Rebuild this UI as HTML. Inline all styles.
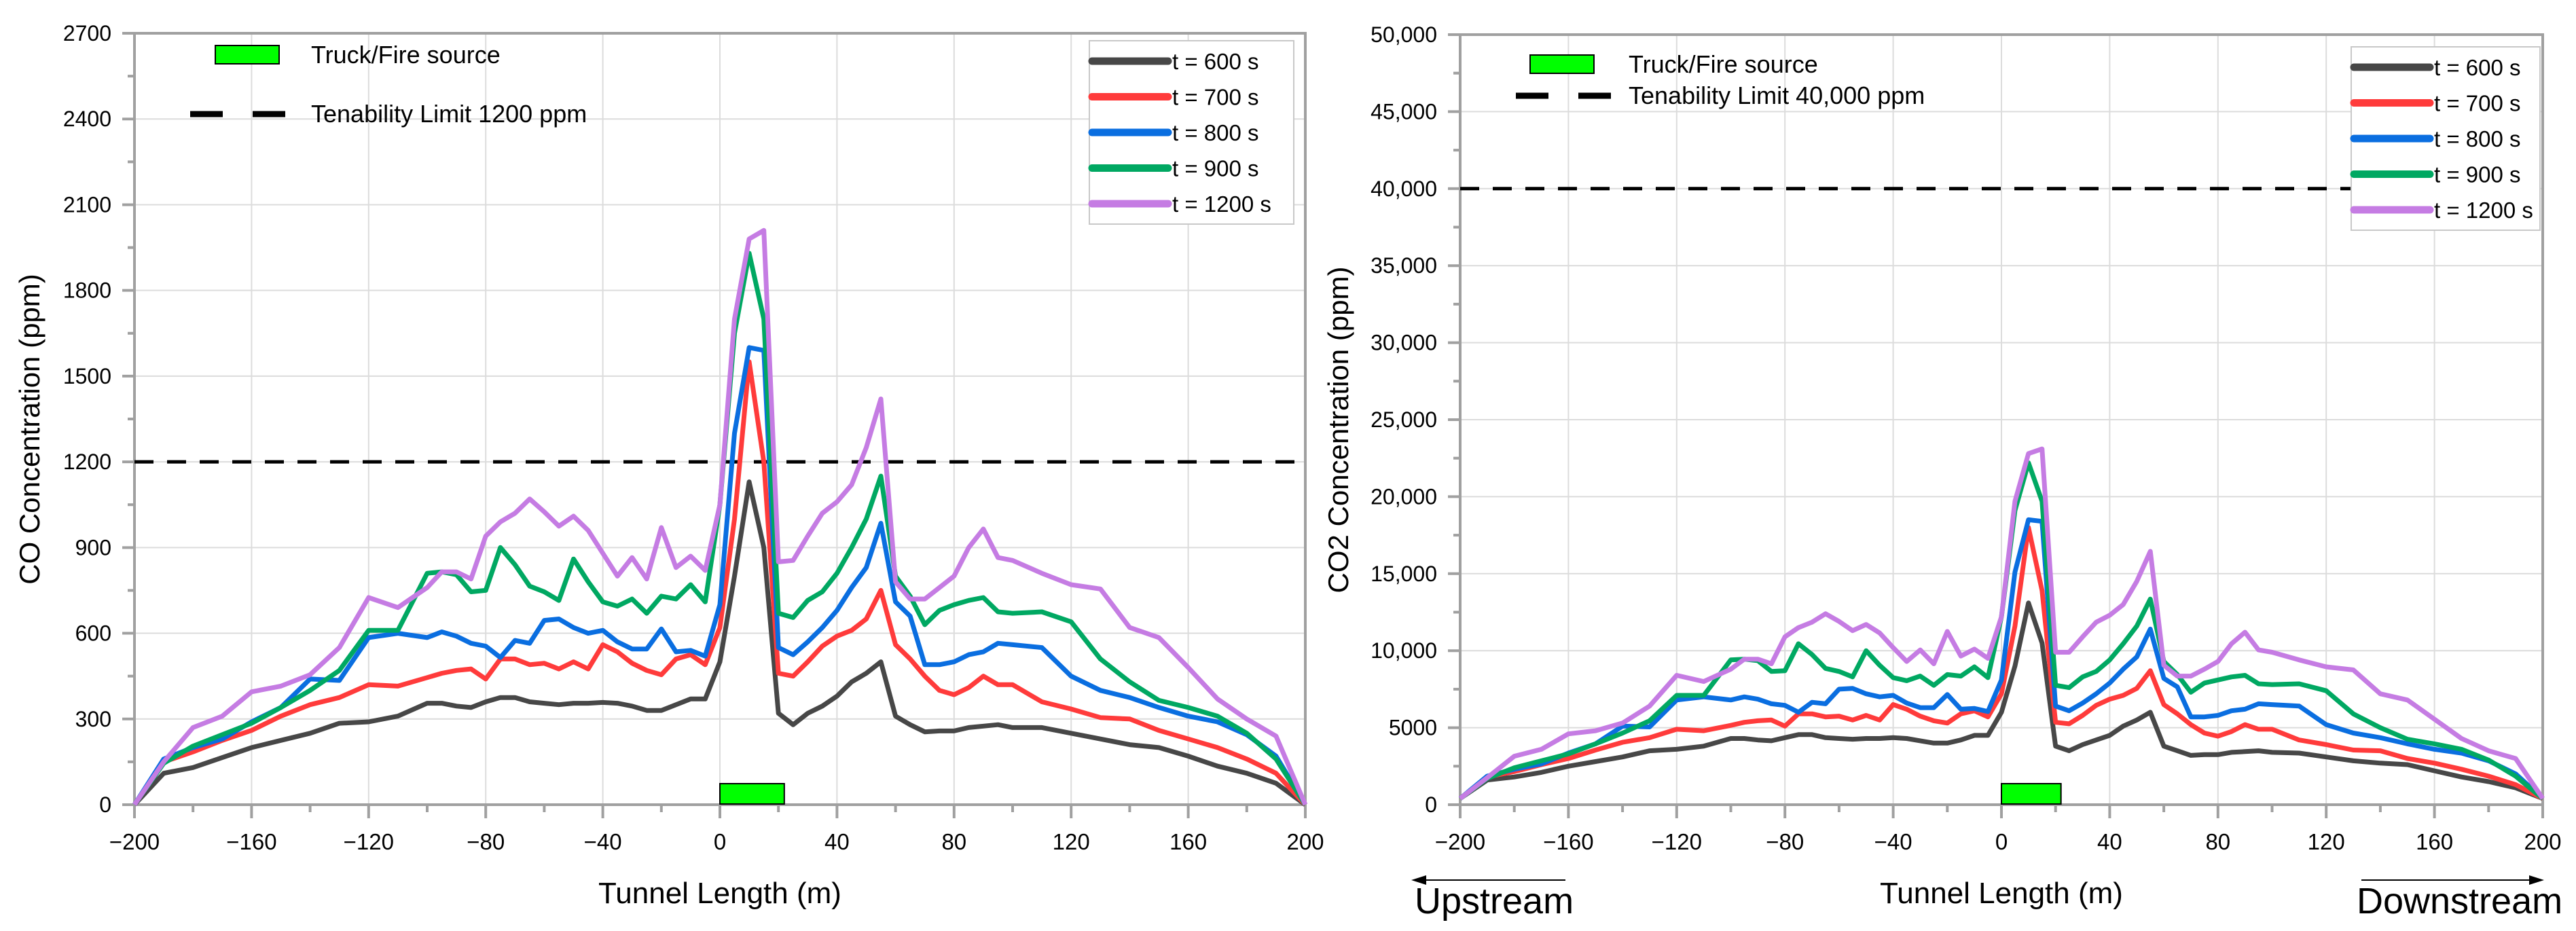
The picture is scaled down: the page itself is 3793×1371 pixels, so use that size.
<!DOCTYPE html>
<html><head><meta charset="utf-8"><style>
html,body{margin:0;padding:0;background:#fff;}
svg{display:block;}
text{font-family:"Liberation Sans Narrow","Liberation Sans",sans-serif;fill:#000;}
.t{font-family:"Liberation Sans",sans-serif;}
</style></head><body>
<svg id="fig" width="3793" height="1371" viewBox="0 0 3793 1371" xmlns="http://www.w3.org/2000/svg"></svg>
<script>
const xs=[-200,-190,-180,-170,-160,-150,-140,-130,-120,-110,-100,-95,-90,-85,-80,-75,-70,-65,-60,-55,-50,-45,-40,-35,-30,-25,-20,-15,-10,-5,0,5,10,15,20,25,30,35,40,45,50,55,60,65,70,75,80,85,90,95,100,110,120,130,140,150,160,170,180,190,200];
const seriesNames=["t = 600 s","t = 700 s","t = 800 s","t = 900 s","t = 1200 s"];
const coT600=[0,110,130,165,200,225,250,285,290,310,355,355,345,340,360,375,375,360,355,350,355,355,358,355,345,330,330,350,370,370,500,800,1130,900,320,280,320,345,380,430,460,500,310,280,255,258,258,270,275,280,270,270,250,230,210,200,170,135,110,75,0];
const coT700=[0,150,185,225,260,310,350,375,420,415,445,460,470,475,440,510,510,490,495,475,500,475,560,535,495,470,455,510,525,490,620,1000,1550,1200,460,450,500,555,590,610,650,750,560,510,450,400,385,410,450,420,420,360,335,305,300,260,230,200,160,110,0];
const coT800=[0,160,200,230,290,340,440,435,585,600,585,605,590,565,555,515,575,565,645,650,620,600,610,570,545,545,615,535,540,520,700,1300,1600,1590,550,525,570,620,680,760,830,985,710,660,490,490,500,525,535,565,560,550,450,400,375,340,310,290,245,170,0];
const coT900=[0,145,205,245,285,340,400,470,610,610,810,815,805,745,750,900,840,765,745,715,860,780,710,695,720,670,730,720,770,710,1050,1650,1930,1700,670,655,715,745,810,900,1000,1150,800,730,630,680,700,715,725,675,670,675,640,510,430,365,340,310,250,160,0];
const coT1200=[0,150,270,310,395,415,455,550,725,690,760,815,815,790,940,990,1020,1070,1025,975,1010,960,880,800,865,790,970,830,870,820,1050,1700,1980,2010,850,855,940,1020,1060,1120,1250,1420,780,720,720,760,800,900,965,865,855,810,770,755,620,585,480,370,300,240,0];
const co2T600=[400,1600,1800,2100,2500,2800,3100,3500,3600,3800,4300,4300,4200,4150,4350,4550,4550,4350,4300,4250,4300,4300,4350,4300,4150,4000,4000,4200,4500,4500,6000,9000,13100,10500,3800,3500,3900,4200,4500,5100,5500,6000,3800,3500,3200,3250,3250,3400,3450,3500,3400,3350,3100,2850,2700,2600,2200,1800,1500,1100,400];
const co2T700=[400,1800,2150,2600,3000,3550,4050,4350,4900,4800,5150,5350,5450,5500,5100,5900,5900,5700,5750,5500,5800,5500,6500,6200,5750,5450,5300,5900,6100,5700,7200,11600,18000,13900,5350,5250,5800,6450,6850,7100,7550,8700,6500,5900,5200,4650,4450,4750,5200,4900,4900,4200,3900,3550,3500,3000,2700,2300,1850,1300,400];
const co2T800=[400,1850,2300,2650,3350,3950,5100,5050,6800,7000,6800,7000,6850,6550,6450,6000,6650,6550,7500,7550,7200,7000,7100,6600,6300,6300,7150,6200,6250,6050,8100,15100,18500,18400,6400,6100,6600,7200,7900,8800,9600,11400,8200,7650,5700,5700,5800,6100,6200,6550,6500,6400,5200,4650,4350,3950,3600,3350,2850,2000,400];
const co2T900=[400,1700,2400,2850,3300,3950,4650,5450,7100,7100,9400,9450,9350,8650,8700,10450,9750,8850,8650,8300,10000,9050,8250,8050,8350,7750,8450,8350,8950,8250,12200,19100,22200,19700,7750,7600,8300,8650,9400,10450,11600,13350,9300,8450,7300,7900,8100,8300,8400,7850,7800,7850,7400,5900,5000,4250,3950,3600,2900,1850,400];
const co2T1200=[400,1750,3150,3600,4600,4800,5300,6400,8400,8000,8800,9450,9450,9150,10900,11500,11850,12400,11900,11300,11700,11150,10200,9300,10050,9150,11250,9650,10100,9500,12200,19700,22800,23100,9900,9900,10900,11850,12300,13000,14500,16450,9050,8350,8350,8800,9300,10450,11200,10050,9900,9400,8950,8750,7200,6800,5550,4300,3500,3000,400];
const xTicks=[-200,-160,-120,-80,-40,0,40,80,120,160,200];
const coYTicks=[0,300,600,900,1200,1500,1800,2100,2400,2700];
const co2YTicks=[0,5000,10000,15000,20000,25000,30000,35000,40000,45000,50000];
const co2YLabels=["0","5000","10,000","15,000","20,000","25,000","30,000","35,000","40,000","45,000","50,000"];
const coLimit=1200, co2Limit=40000;
const fireStart=0, fireEnd=22;
const colors=["#474747","#ff3b3b","#0a6ee0","#00a862","#c57ce3"];

const NS="http://www.w3.org/2000/svg";
const svg=document.getElementById('fig');
function mk(tag,attrs,parent){const e=document.createElementNS(NS,tag);for(const k in attrs)e.setAttribute(k,attrs[k]);(parent||svg).appendChild(e);return e;}

function chart(o){
  const g=mk('g',{});
  
  
  const X=v=>o.x0+(v+200)/400*(o.x1-o.x0);
  const Y=v=>o.y0-(v/o.ymax)*(o.y0-o.yt);
  xTicks.forEach(t=>{const l=mk('line',{x1:X(t),x2:X(t),y1:o.yt,y2:o.y0,stroke:'#dcdcdc','stroke-width':2},g);
    });
  o.yTicks.forEach(t=>{const l=mk('line',{x1:o.x0,x2:o.x1,y1:Y(t),y2:Y(t),stroke:'#dcdcdc','stroke-width':2},g);
    });
  const fr=mk('rect',{x:o.x0,y:o.yt,width:o.x1-o.x0,height:o.y0-o.yt,fill:'none',stroke:'#a0a0a0','stroke-width':4},g);
  
  xTicks.forEach((t,i)=>{
    mk('line',{x1:X(t),x2:X(t),y1:o.y0,y2:o.y0+20,stroke:'#a0a0a0','stroke-width':4},g);
    if(i<xTicks.length-1){const m=t+20;mk('line',{x1:X(m),x2:X(m),y1:o.y0,y2:o.y0+11,stroke:'#a0a0a0','stroke-width':4},g);}
    const tx=mk('text',{x:X(t),y:o.y0+66,'font-size':33,'text-anchor':'middle'},g);
    tx.textContent=(t<0?'\u2212'+(-t):''+t);
    
  });
  o.yTicks.forEach((t,i)=>{
    mk('line',{x1:o.x0-18,x2:o.x0,y1:Y(t),y2:Y(t),stroke:'#a0a0a0','stroke-width':4},g);
    if(i<o.yTicks.length-1){const m=(t+o.yTicks[i+1])/2;mk('line',{x1:o.x0-10,x2:o.x0,y1:Y(m),y2:Y(m),stroke:'#a0a0a0','stroke-width':4},g);}
    const tx=mk('text',{x:o.x0-34,y:Y(t)+11,'font-size':32,'text-anchor':'end'},g);
    tx.textContent=o.yLabels[i];
    
  });
  const ll=mk('line',{x1:o.x0,x2:o.limitEnd,y1:Y(o.limit),y2:Y(o.limit),stroke:'#000','stroke-width':5,'stroke-dasharray':'28,20'},g);
  
  o.series.forEach((s,k)=>{
    const d=s.map((v,i)=>(i?'L':'M')+X(xs[i]).toFixed(1)+','+Y(v).toFixed(1)).join(' ');
    const p=mk('path',{d:d,fill:'none',stroke:colors[k],'stroke-width':7,'stroke-linejoin':'round'},g);
    
    
  });
  const fs=mk('rect',{x:X(fireStart),y:o.y0-31,width:X(fireEnd)-X(fireStart),height:30,fill:'#00ff00',stroke:'#000','stroke-width':2},g);
  
  const r=mk('rect',{x:o.lg.x,y:o.lg.y,width:94,height:27,fill:'#00ff00',stroke:'#000','stroke-width':2},g);
  
  const t1=mk('text',{x:o.lg.tx,y:o.lg.y+26,'font-size':36},g);t1.textContent='Truck/Fire source';
  
  const dl=mk('line',{x1:o.lg.dx,x2:o.lg.dx+141,y1:o.lg.dy,y2:o.lg.dy,stroke:'#000','stroke-width':9,'stroke-dasharray':'48,44'},g);
  
  const t2=mk('text',{x:o.lg.tx,y:o.lg.dy+12,'font-size':36},g);t2.textContent=o.limitText;
  
  const lb=mk('rect',{x:o.sl.x,y:o.sl.y,width:o.sl.w,height:o.sl.h,fill:'#fff',stroke:'#c8c8c8','stroke-width':2},g);
  
  seriesNames.forEach((n,k)=>{
    const yy=o.sl.y+30+k*52.5;
    mk('line',{x1:o.sl.x+4,x2:o.sl.x+116,y1:yy,y2:yy,stroke:colors[k],'stroke-width':11,'stroke-linecap':'round'},g);
    const tt=mk('text',{x:o.sl.x+122,y:yy+12,'font-size':33},g);tt.textContent=n;
    
  });
  const xt=mk('text',{x:(o.x0+o.x1)/2,y:1330,'font-size':44,'text-anchor':'middle'},g);xt.textContent='Tunnel Length (m)';
  
  const yt=mk('text',{x:0,y:0,'font-size':42,'text-anchor':'middle',class:'t',transform:`translate(${o.ytx},${(o.yt+o.y0)/2+15}) rotate(-90)`},g);
  yt.textContent=o.yTitle;
  
  return g;
}
chart({name:'co-chart',x0:198,x1:1922,y0:1185,yt:49,ymax:2700,yTicks:coYTicks,yLabels:coYTicks.map(String),
  limit:coLimit,limitEnd:1922,limitText:'Tenability Limit 1200 ppm',series:[coT600,coT700,coT800,coT900,coT1200],
  lg:{x:317,y:67,tx:458,dx:280,dy:168},sl:{x:1604,y:60,w:301,h:270},yTitle:'CO Concentration (ppm)',ytx:58});
chart({name:'co2-chart',x0:2150,x1:3744,y0:1185,yt:51,ymax:50000,yTicks:co2YTicks,yLabels:co2YLabels,
  limit:co2Limit,limitEnd:3462,limitText:'Tenability Limit 40,000 ppm',series:[co2T600,co2T700,co2T800,co2T900,co2T1200],
  lg:{x:2253,y:81,tx:2398,dx:2232,dy:141},sl:{x:3462,y:69,w:278,h:270},yTitle:'CO2 Concentration (ppm)',ytx:1985});
const a1=mk('line',{x1:2305,x2:2092,y1:1296,y2:1296,stroke:'#000','stroke-width':2});

const h1=mk('polygon',{points:'2078,1296 2100,1289 2100,1303',fill:'#000'});

const u=mk('text',{x:2083,y:1345,'font-size':54});u.textContent='Upstream';

const a2=mk('line',{x1:3477,x2:3730,y1:1296,y2:1296,stroke:'#000','stroke-width':2});

const h2=mk('polygon',{points:'3746,1296 3724,1289 3724,1303',fill:'#000'});

const dn=mk('text',{x:3470,y:1345,'font-size':54});dn.textContent='Downstream';

</script>
</body></html>
